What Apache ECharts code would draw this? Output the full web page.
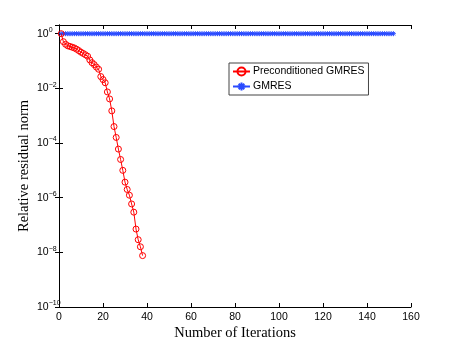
<!DOCTYPE html>
<html>
<head>
<meta charset="utf-8">
<script src="https://cdn.jsdelivr.net/npm/echarts@6/dist/echarts.min.js"></script>
<style>
  html, body { margin: 0; padding: 0; background: #fff; }
  #chart { width: 454px; height: 346px; }
</style>
</head>
<body>
<div id="chart"></div>
<script>
// iteration numbers
var precIters = [];
for (var i = 1; i <= 38; i++) precIters.push(i);
var gmresIters = [];
for (var j = 1; j <= 152; j++) gmresIters.push(j);

// relative residual norm
var precResidual = [
    1, 0.51, 0.41, 0.36, 0.34, 0.32, 0.30, 0.27, 0.24, 0.21,
    0.19, 0.17, 0.15, 0.11, 0.087, 0.074, 0.06, 0.05, 0.027, 0.021,
    0.016, 7.4e-3, 4.1e-3, 1.5e-3, 4.0e-4, 1.6e-4, 6.0e-5, 2.5e-5, 1.0e-5, 3.7e-6,
    2.0e-6, 1.23e-6, 5.9e-7, 2.95e-7, 7.1e-8, 2.9e-8, 1.6e-8, 7.6e-9
];
var gmresResidual = [
    1, 1, 1, 1, 1, 1, 1, 1, 1, 1, 1, 1, 1, 1, 1, 1, 1, 1, 1, 1,
    1, 1, 1, 1, 1, 1, 1, 1, 1, 1, 1, 1, 1, 1, 1, 1, 1, 1, 1, 1,
    1, 1, 1, 1, 1, 1, 1, 1, 1, 1, 1, 1, 1, 1, 1, 1, 1, 1, 1, 1,
    1, 1, 1, 1, 1, 1, 1, 1, 1, 1, 1, 1, 1, 1, 1, 1, 1, 1, 1, 1,
    1, 1, 1, 1, 1, 1, 1, 1, 1, 1, 1, 1, 1, 1, 1, 1, 1, 1, 1, 1,
    1, 1, 1, 1, 1, 1, 1, 1, 1, 1, 1, 1, 1, 1, 1, 1, 1, 1, 1, 1,
    1, 1, 1, 1, 1, 1, 1, 1, 1, 1, 1, 1, 1, 1, 1, 1, 1, 1, 1, 1,
    1, 1, 1, 1, 1, 1, 1, 1, 1, 1, 1, 1
];
var seriesNames = ['Preconditioned GMRES', 'GMRES'];

function pairs(xs, ys) {
    var out = [];
    for (var k = 0; k < ys.length; k++) out.push([xs[k], ys[k]]);
    return out;
}

function powLabel(v) {
    var lg = Math.log10(v);
    var e = Math.round(lg);
    if (Math.abs(lg - e) > 0.01) return '';
    return '{b|10}{s|' + (e < 0 ? '\u2212' + (-e) : e) + '}';
}

var chart = echarts.init(document.getElementById('chart'));
var axisFont = 'Liberation Sans';
var nameFont = 'Liberation Serif';

option = {
    animation: false,
    backgroundColor: '#fff',
    grid: { left: 59, right: 43, top: 25, bottom: 39 },
    legend: {
        data: seriesNames,
        orient: 'vertical',
        left: 229,
        top: 63,
        padding: [2, 4, 2, 3],
        itemWidth: 17,
        itemHeight: 10,
        itemGap: 2,
        borderColor: '#444',
        borderWidth: 1,
        backgroundColor: '#fff',
        textStyle: { color: '#000', fontSize: 10.5, fontFamily: axisFont, padding: [0, 0, 0, -2] }
    },
    xAxis: [{
        type: 'value',
        min: 0, max: 160, interval: 20,
        name: 'Number of Iterations',
        nameLocation: 'middle',
        nameGap: 19,
        nameMoveOverlap: false,
        nameTextStyle: { fontFamily: nameFont, fontSize: 14.5, color: '#000' },
        axisLine: { lineStyle: { color: '#000', width: 1 } },
        axisTick: { inside: true, length: 4, lineStyle: { color: '#000' } },
        axisLabel: { color: '#000', fontSize: 10.5, fontFamily: axisFont, margin: 5 },
        splitLine: { show: false }
    }, {
        type: 'value',
        position: 'top',
        min: 0, max: 160, interval: 20,
        axisLine: { lineStyle: { color: '#000', width: 1 } },
        axisTick: { inside: true, length: 4, lineStyle: { color: '#000' } },
        axisLabel: { show: false },
        splitLine: { show: false }
    }],
    yAxis: [{
        type: 'log',
        logBase: 100,
        min: 1e-10, max: 2.08,
        name: 'Relative residual norm',
        nameLocation: 'middle',
        nameGap: 27,
        nameMoveOverlap: false,
        nameTextStyle: { fontFamily: nameFont, fontSize: 14.5, color: '#000' },
        axisLine: { lineStyle: { color: '#000', width: 1 } },
        axisTick: { inside: true, length: 4, lineStyle: { color: '#000' } },
        axisLabel: {
            align: 'left',
            margin: 22,
            formatter: powLabel,
            rich: {
                b: { fontSize: 10.5, fontFamily: axisFont, color: '#000' },
                s: { fontSize: 7, fontFamily: axisFont, color: '#000', padding: [0, 0, 7, 0] }
            }
        },
        splitLine: { show: false }
    }, {
        type: 'log',
        logBase: 100,
        min: 1e-10, max: 2.08,
        position: 'right',
        axisLine: { lineStyle: { color: '#000', width: 1 } },
        axisTick: { inside: true, length: 4, lineStyle: { color: '#000' } },
        axisLabel: { show: false },
        splitLine: { show: false }
    }],
    series: [{
        name: seriesNames[0],
        type: 'line',
        data: pairs(precIters, precResidual),
        symbol: 'circle',
        symbolSize: 6,
        lineStyle: { color: '#ff0000', width: 1 },
        itemStyle: { color: 'none', borderColor: '#ff0000', borderWidth: 1 },
        z: 3
    }, {
        name: seriesNames[1],
        type: 'line',
        data: pairs(gmresIters, gmresResidual),
        symbol: 'path://M0,-5L0,5M-5,0L5,0M-3.5,-3.5L3.5,3.5M-3.5,3.5L3.5,-3.5',
        symbolSize: 5,
        lineStyle: { color: '#2a4bff', width: 1 },
        itemStyle: { color: 'none', borderColor: '#2a4bff', borderWidth: 1 },
        z: 2
    }]
};
chart.setOption(option);
</script>
</body>
</html>
